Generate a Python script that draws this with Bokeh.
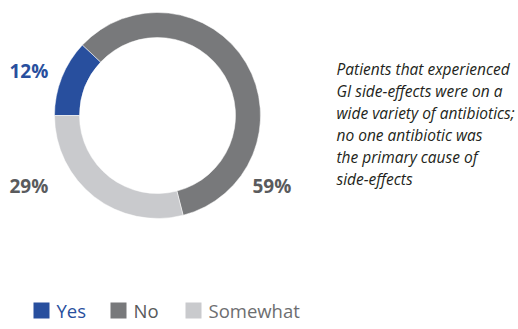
import numpy as np
from bokeh.plotting import figure
from bokeh.models import Range1d, ColumnDataSource
from bokeh.core.properties import value
from bokeh.embed import file_html
from bokeh.resources import INLINE

categories = ["Yes", "No", "Somewhat"]
percents = [12, 59, 29]
colors = ["#284f9e", "#78797b", "#c9cacd"]
label_colors = ["#284f9e", "#5a5b5d", "#5a5b5d"]
note_lines = [
    "Patients that experienced",
    "GI side-effects were on a",
    "wide variety of antibiotics;",
    "no one antibiotic was",
    "the primary cause of",
    "side-effects",
]

W, H = 518, 329
p = figure(width=W, height=H, output_backend="svg", toolbar_location=None,
           x_range=Range1d(0, W), y_range=Range1d(0, H), min_border=0)
p.axis.visible = False
p.grid.visible = False
p.outline_line_color = None
p.background_fill_color = "white"
p.border_fill_color = "white"

cx, cy = 157, H - 115
r_out, r_in = 103, 78

frac = np.array(percents, dtype=float) / sum(percents)
cum = np.concatenate([[0], np.cumsum(frac)])
start = np.pi - 2 * np.pi * cum[:-1]
end = np.pi - 2 * np.pi * cum[1:]

src = ColumnDataSource(dict(start=start, end=end, color=colors))
p.annular_wedge(x=cx, y=cy, inner_radius=r_in, outer_radius=r_out,
                start_angle="start", end_angle="end", direction="clock",
                fill_color="color", line_color="white", line_width=0.5, source=src)

# percentage labels
lab_x = [9, 252, 9]
lab_y = [H - 70, H - 185, H - 185]
lsrc = ColumnDataSource(dict(x=lab_x, y=lab_y, t=[f"{v}%" for v in percents], c=label_colors))
p.text(x="x", y="y", text="t", text_color="c", source=lsrc,
       text_font=value("Open Sans"), text_font_style="bold", text_font_size="19px",
       text_baseline="middle", text_align="left")

# note text
ny = [H - (68 + 22 * i) for i in range(len(note_lines))]
p.text(x=[336] * len(note_lines), y=ny, text=note_lines, text_color="#231f20",
       text_font=value("Open Sans"), text_font_style="italic", text_font_size="15.5px",
       text_baseline="middle", text_align="left")

# legend
sq_x = [41, 118, 193]
leg_y = H - 310
p.rect(x=sq_x, y=[leg_y] * 3, width=16, height=16, fill_color=colors, line_color=None)
leg_text_colors = ["#284f9e", "#58595b", "#6d6e70"]
p.text(x=[x + 15 for x in sq_x], y=[leg_y] * 3, text=categories, text_color=leg_text_colors,
       text_font=value("Open Sans"), text_font_size="18.5px",
       text_baseline="middle", text_align="left")

open("out.html", "w").write(file_html(p, INLINE))
